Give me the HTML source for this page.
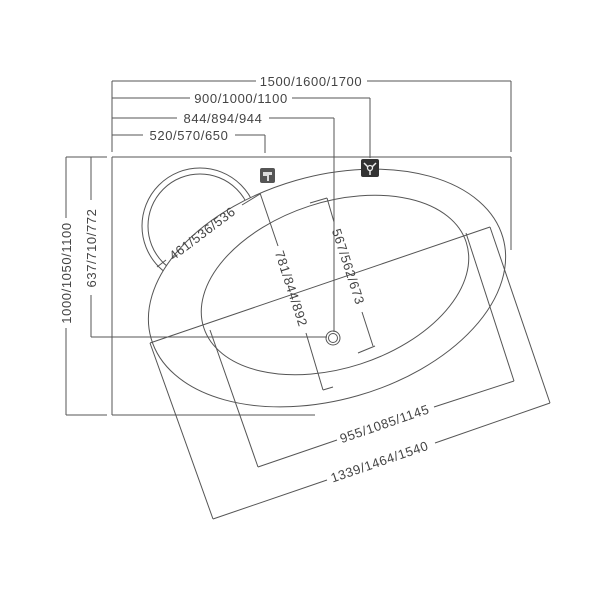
<!DOCTYPE html>
<html><head><meta charset="utf-8"><style>
html,body{margin:0;padding:0;background:#fff;}
svg{display:block;}
text{font-family:"Liberation Sans",sans-serif;font-size:13px;fill:#444;letter-spacing:0.6px;}
</style></head><body>
<svg width="600" height="600" viewBox="0 0 600 600" xmlns="http://www.w3.org/2000/svg">
<g stroke="#555" stroke-width="1" fill="none">
<circle cx="200" cy="226" r="58"/>
<circle cx="200" cy="226" r="52"/>
</g>
<ellipse cx="327" cy="288" rx="183" ry="112" transform="rotate(-16 327 288)" fill="#fff" stroke="#555" stroke-width="1"/>
<g stroke="#555" stroke-width="1" fill="none">
<ellipse cx="335" cy="285" rx="138" ry="83" transform="rotate(-18 335 285)"/>
<line x1="112" y1="157" x2="511" y2="157"/>
<line x1="112" y1="157" x2="112" y2="415"/>
<line x1="112" y1="415" x2="315" y2="415"/>
<line x1="511" y1="157" x2="511" y2="250"/>
<line x1="112" y1="81" x2="256" y2="81"/><line x1="367" y1="81" x2="511" y2="81"/>
<line x1="112" y1="98" x2="190" y2="98"/><line x1="292" y1="98" x2="370" y2="98"/>
<line x1="112" y1="118" x2="177" y2="118"/><line x1="269" y1="118" x2="334" y2="118"/>
<line x1="112" y1="135" x2="143" y2="135"/><line x1="235" y1="135" x2="265" y2="135"/>
<line x1="112" y1="81" x2="112" y2="152"/>
<line x1="511" y1="81" x2="511" y2="152"/>
<line x1="370" y1="98" x2="370" y2="158"/>
<line x1="265" y1="135" x2="265" y2="153"/>
<line x1="334" y1="118" x2="334" y2="332"/>
<line x1="66" y1="157" x2="107" y2="157"/>
<line x1="66" y1="415" x2="107" y2="415"/>
<line x1="66" y1="157" x2="66" y2="218"/><line x1="66" y1="328" x2="66" y2="415"/>
<line x1="91" y1="157" x2="91" y2="200"/><line x1="91" y1="295" x2="91" y2="337"/>
<line x1="91" y1="337" x2="327" y2="337"/>
<circle cx="333" cy="338" r="7"/>
<circle cx="333" cy="338" r="4.5"/>
<line x1="150" y1="343" x2="490" y2="227"/>
<line x1="150" y1="343" x2="213" y2="519"/>
<line x1="490" y1="227" x2="550" y2="403"/>
<line x1="213" y1="519" x2="327" y2="480"/><line x1="435" y1="443" x2="550" y2="403"/>
<line x1="210" y1="330" x2="258" y2="467"/>
<line x1="466" y1="233" x2="514" y2="381"/>
<line x1="258" y1="467" x2="337" y2="440"/><line x1="434" y1="407" x2="514" y2="381"/>
<line x1="260" y1="193" x2="278" y2="246"/>
<line x1="306" y1="333" x2="323" y2="390"/>
<line x1="323" y1="390" x2="333" y2="387"/>
<line x1="310" y1="203" x2="327" y2="198"/>
<line x1="327" y1="198" x2="334" y2="222"/>
<line x1="362" y1="312" x2="373" y2="346"/>
<line x1="358" y1="353" x2="375" y2="346"/>
<line x1="157" y1="267" x2="166" y2="260"/>
<line x1="242" y1="205" x2="260" y2="194"/>
</g>
<rect x="260" y="168" width="15" height="15" rx="2" fill="#555"/>
<path d="M263 172 h9 v3 h-3 v6 h-2 v-5 h-4z" fill="#ddd"/>
<rect x="361" y="159" width="18" height="18" rx="2" fill="#333"/>
<path d="M364 163 l4 4 M376 163 l-4 4 M370 170 v5" stroke="#eee" stroke-width="1.5"/>
<circle cx="370" cy="168" r="2.5" fill="none" stroke="#eee" stroke-width="1.3"/>
<text x="311" y="86" text-anchor="middle">1500/1600/1700</text>
<text x="241" y="103" text-anchor="middle">900/1000/1100</text>
<text x="223" y="123" text-anchor="middle">844/894/944</text>
<text x="189" y="140" text-anchor="middle">520/570/650</text>
<text transform="translate(71,273) rotate(-90)" text-anchor="middle">1000/1050/1100</text>
<text transform="translate(96,248) rotate(-90)" text-anchor="middle">637/710/772</text>
<text transform="translate(205,237) rotate(-37)" text-anchor="middle">461/536/536</text>
<text transform="translate(287,290) rotate(72)" text-anchor="middle">781/844/892</text>
<text transform="translate(344,268) rotate(72)" text-anchor="middle">567/562/673</text>
<text transform="translate(386,428) rotate(-19)" text-anchor="middle">955/1085/1145</text>
<text transform="translate(381,466) rotate(-19)" text-anchor="middle">1339/1464/1540</text>
</svg>
</body></html>
